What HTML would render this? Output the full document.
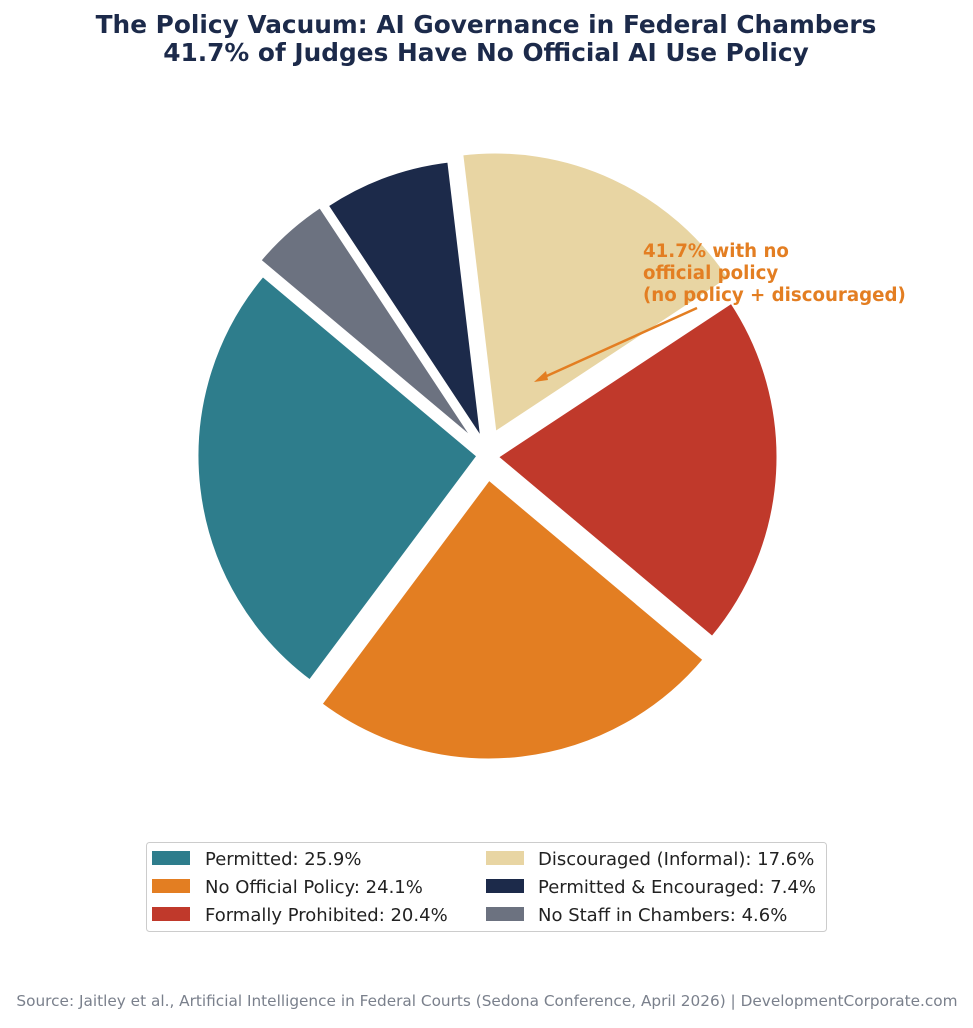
<!DOCTYPE html>
<html><head><meta charset="utf-8"><style>
body{margin:0;background:#fff;width:973px;height:1024px;overflow:hidden;font-family:"DejaVu Sans","Liberation Sans",sans-serif}
</style></head><body>
<svg id="s" width="973" height="1024" xmlns="http://www.w3.org/2000/svg">
<text x="486" y="33" text-anchor="middle" font-size="24.8" font-weight="bold" fill="#1c2a4a">The Policy Vacuum: AI Governance in Federal Chambers</text>
<text x="486" y="61" text-anchor="middle" font-size="24.8" font-weight="bold" fill="#1c2a4a">41.7% of Judges Have No Official AI Use Policy</text>
<g id="pie"></g>
<text font-size="18.2" font-weight="bold" fill="#e37e22"><tspan x="643" y="257">41.7% with no</tspan><tspan x="643" y="279">official policy</tspan><tspan x="643" y="301">(no policy + discouraged)</tspan></text>
<line x1="697" y1="308" x2="540" y2="379" stroke="#e37e22" stroke-width="2.5"/>
<path d="M534 382 L546 371 L548 380 Z" fill="#e37e22"/>
<rect x="146.5" y="842.5" width="680" height="89" rx="3" fill="#fff" stroke="#ccc"/>
<g font-size="18" fill="#222">
<rect x="152" y="851" width="38" height="14" fill="#2e7d8c"/><text x="205" y="865">Permitted: 25.9%</text>
<rect x="152" y="879" width="38" height="14" fill="#e37e22"/><text x="205" y="893">No Official Policy: 24.1%</text>
<rect x="152" y="907" width="38" height="14" fill="#c0392b"/><text x="205" y="921">Formally Prohibited: 20.4%</text>
<rect x="486" y="851" width="38" height="14" fill="#e8d5a3"/><text x="538" y="865">Discouraged (Informal): 17.6%</text>
<rect x="486" y="879" width="38" height="14" fill="#1c2a4a"/><text x="538" y="893">Permitted &amp; Encouraged: 7.4%</text>
<rect x="486" y="907" width="38" height="14" fill="#6c7280"/><text x="538" y="921">No Staff in Chambers: 4.6%</text>
</g>
<text x="487" y="1006" text-anchor="middle" font-size="15.3" fill="#7a808c">Source: Jaitley et al., Artificial Intelligence in Federal Courts (Sedona Conference, April 2026) | DevelopmentCorporate.com</text>
</svg>
<script>
var R=281,a=140;
var w=[[25.9,"#2e7d8c",478,456],[24.1,"#e37e22",489,479],[20.4,"#c0392b",497,457],[17.6,"#e8d5a3",495,433],[7.4,"#1c2a4a",482,440],[4.6,"#6c7280",475,441]];
var h="";
w.forEach(function(d){var a1=a,a2=a+d[0]*3.6;a=a2;
var r=Math.PI/180,x1=d[2]+R*Math.cos(a1*r),y1=d[3]-R*Math.sin(a1*r),x2=d[2]+R*Math.cos(a2*r),y2=d[3]-R*Math.sin(a2*r);
h+='<path d="M'+d[2]+' '+d[3]+' L'+x1+' '+y1+' A'+R+' '+R+' 0 '+((a2-a1)>180?1:0)+' 0 '+x2+' '+y2+' Z" fill="'+d[1]+'" stroke="#fff" stroke-width="3" stroke-linejoin="round"/>';});
document.getElementById("pie").innerHTML=h;
</script>
</body></html>
